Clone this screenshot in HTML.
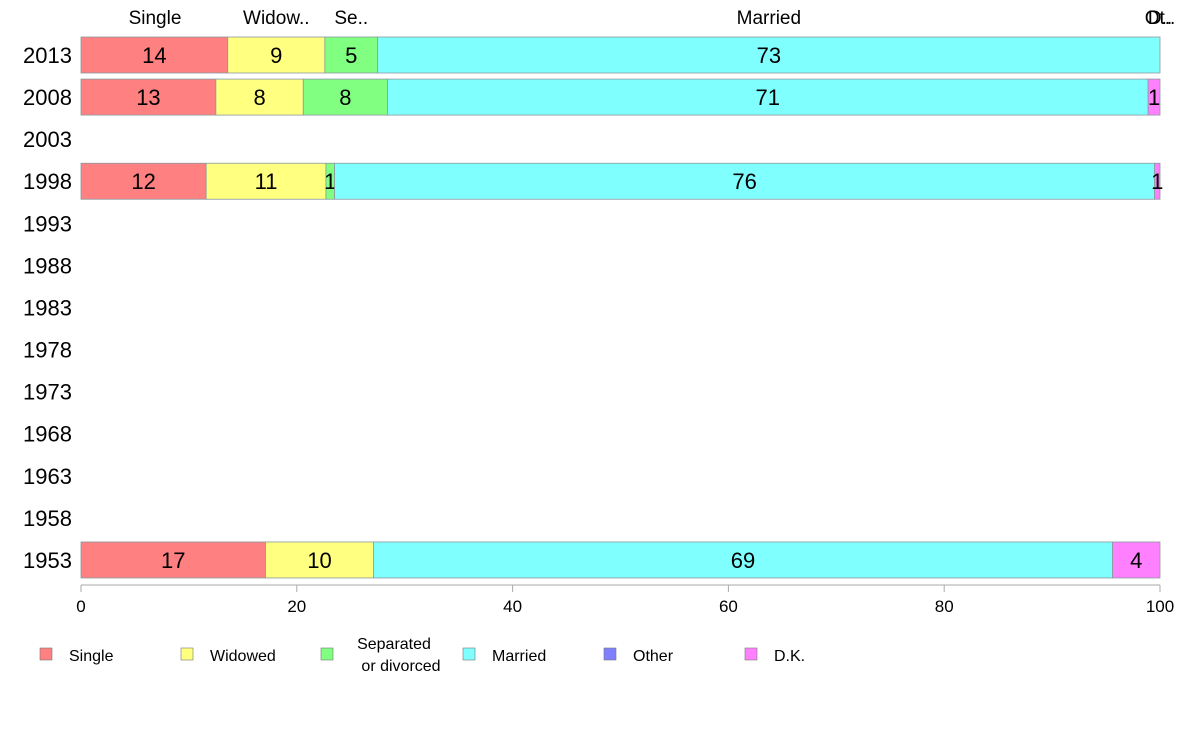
<!DOCTYPE html>
<html><head><meta charset="utf-8"><style>
body{margin:0;background:#fff;font-family:"Liberation Sans",sans-serif}
</style></head><body>
<svg id="chart" width="1188" height="736" xmlns="http://www.w3.org/2000/svg" font-family="Liberation Sans, sans-serif"></svg>
<script>
const years=["2013","2008","2003","1998","1993","1988","1983","1978","1973","1968","1963","1958","1953"];
const seriesNames=["Single","Widowed","Separated or divorced","Married","Other","D.K."];
const single=[13.6,12.5,0,11.6,0,0,0,0,0,0,0,0,17.1];
const widowed=[9.0,8.1,0,11.1,0,0,0,0,0,0,0,0,10.0];
const separated=[4.9,7.8,0,0.8,0,0,0,0,0,0,0,0,0];
const married=[72.5,70.5,0,76.0,0,0,0,0,0,0,0,0,68.5];
const other=[0,0,0,0,0,0,0,0,0,0,0,0,0];
const dk=[0,1.1,0,0.5,0,0,0,0,0,0,0,0,4.4];
const xTicks=[0,20,40,60,80,100];
const topLabels=["Single","Widow..","Se..","Married","Ot..","D.."];
const colors=["#ff8080","#ffff80","#80ff80","#80ffff","#8080ff","#ff80ff"];
const series=[single,widowed,separated,married,other,dk];
const svg=document.getElementById('chart');
const NS="http://www.w3.org/2000/svg";
const x=v=>81+v*10.79;
const y=i=>55+i*42.08;
const bh=36;
function mk(tag,attrs,parent){const e=document.createElementNS(NS,tag);for(const k in attrs)e.setAttribute(k,attrs[k]);(parent||svg).appendChild(e);return e;}
years.forEach((yr,i)=>{
  const t=mk('text',{x:72,y:y(i)+8,'text-anchor':'end','font-size':22,fill:'#000'});
  t.textContent=yr;
  
  
  let acc=0;
  series.forEach((s,j)=>{
    const v=s[i];
    if(v>0){
      const r=mk('rect',{x:x(acc),y:y(i)-bh/2,width:x(acc+v)-x(acc),height:bh,fill:colors[j],stroke:'#8a9aa0','stroke-width':0.8});
      
      
      if(v>=0.5){
        const lt=mk('text',{x:(x(acc)+x(acc+v))/2,y:y(i)+8,'text-anchor':'middle','font-size':22,fill:'#000'});
        lt.textContent=Math.round(v);
        
        
      }
    }
    acc+=v;
  });
});
// top labels from 2013 row
let acc0=0;
series.forEach((s,j)=>{
  const v=s[0];let cx=(x(acc0)+x(acc0+v))/2;
  if(j==0)cx=155; if(j>=4)cx=1160;
  const t=mk('text',{x:cx,y:24,'text-anchor':'middle','font-size':19,fill:'#000'});
  t.textContent=topLabels[j];
  
  
  acc0+=v;
});
// x axis
const ax=mk('line',{x1:x(0),x2:x(100),y1:585,y2:585,stroke:'#aaa','stroke-width':1});


xTicks.forEach(v=>{
  const tl=mk('line',{x1:x(v),x2:x(v),y1:585,y2:592,stroke:'#aaa'});
  
  
  const t=mk('text',{x:x(v),y:612,'text-anchor':'middle','font-size':17,fill:'#000'});
  t.textContent=v;
  
  
});
// legend
const lx=[40,181,321,463,604,745];
seriesNames.forEach((n,j)=>{
  const g=mk('g',{});
  
  
  mk('rect',{x:lx[j],y:648,width:12,height:12,fill:colors[j],stroke:'#777','stroke-width':0.6},g);
  if(j==2){
    const a=mk('text',{x:394,y:649,'text-anchor':'middle','font-size':16},g);a.textContent='Separated';
    const b=mk('text',{x:401,y:671,'text-anchor':'middle','font-size':16},g);b.textContent='or divorced';
  }else{
    const t=mk('text',{x:lx[j]+29,y:661,'font-size':16},g);t.textContent=n;
  }
});
</script>
</body></html>
